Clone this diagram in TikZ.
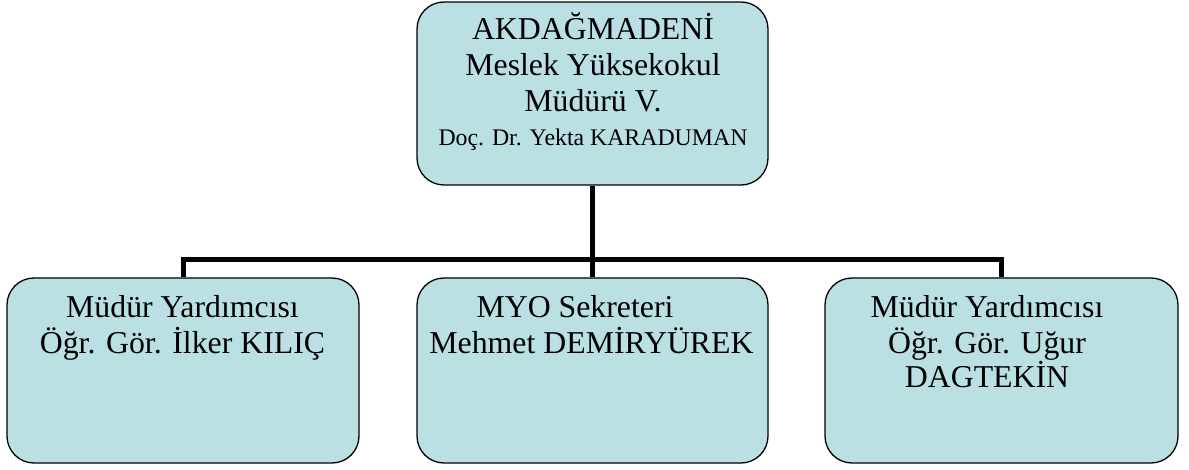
\documentclass[tikz,border=0pt]{standalone}
\usepackage{fontspec}
\setmainfont{Liberation Serif}
\usetikzlibrary{backgrounds}
\definecolor{boxfill}{RGB}{186,224,228}
\begin{document}
\begin{tikzpicture}[x=1pt,y=-1pt,
  orgbox/.style={draw=black, line width=1.3pt, fill=boxfill, rounded corners=27pt, inner sep=0pt},
  bigtext/.style={anchor=base, inner sep=0pt, font=\fontsize{31.8}{36}\selectfont},
  smalltext/.style={anchor=base, inner sep=0pt, font=\fontsize{23.8}{28}\selectfont},
  conn/.style={draw=black, line width=5pt}]
\useasboundingbox (0,0) rectangle (1189,470);
% boxes
\node[orgbox, minimum width=351pt, minimum height=183pt] (top) at (592.5,93.5) {};
\node[orgbox, minimum width=352pt, minimum height=185pt] (left) at (183,370.5) {};
\node[orgbox, minimum width=351pt, minimum height=185pt] (mid) at (592.5,370.5) {};
\node[orgbox, minimum width=353pt, minimum height=185pt] (right) at (1001.5,370.5) {};
% connectors
\coordinate (bus) at (592.5,260);
\begin{scope}[on background layer]
  \draw[conn] (top.south) -- (mid.north);
  \draw[conn] (left.north) |- (bus) -| (right.north);
\end{scope}
% texts
\node[bigtext] (t1) at (593,40) {AKDAĞMADENİ};
\node[bigtext] (t2) at (593,76) {Meslek Yüksekokul};
\node[bigtext] (t3) at (593,112) {Müdürü V.};
\node[smalltext] (t4) at (593,146) {Doç. Dr. Yekta KARADUMAN};
\node[bigtext] (l1) at (182.5,318) {Müdür Yardımcısı};
\node[bigtext] (l2) at (182.5,353) {Öğr. Gör. İlker KILIÇ};
\node[bigtext] (m1) at (575,318) {MYO Sekreteri};
\node[bigtext] (m2) at (591.5,354) {Mehmet DEMİRYÜREK};
\node[bigtext] (r1) at (987,318) {Müdür Yardımcısı};
\node[bigtext] (r2) at (987,353) {Öğr. Gör. Uğur};
\node[bigtext] (r3) at (987,388) {DAGTEKİN};
\end{tikzpicture}
\end{document}
